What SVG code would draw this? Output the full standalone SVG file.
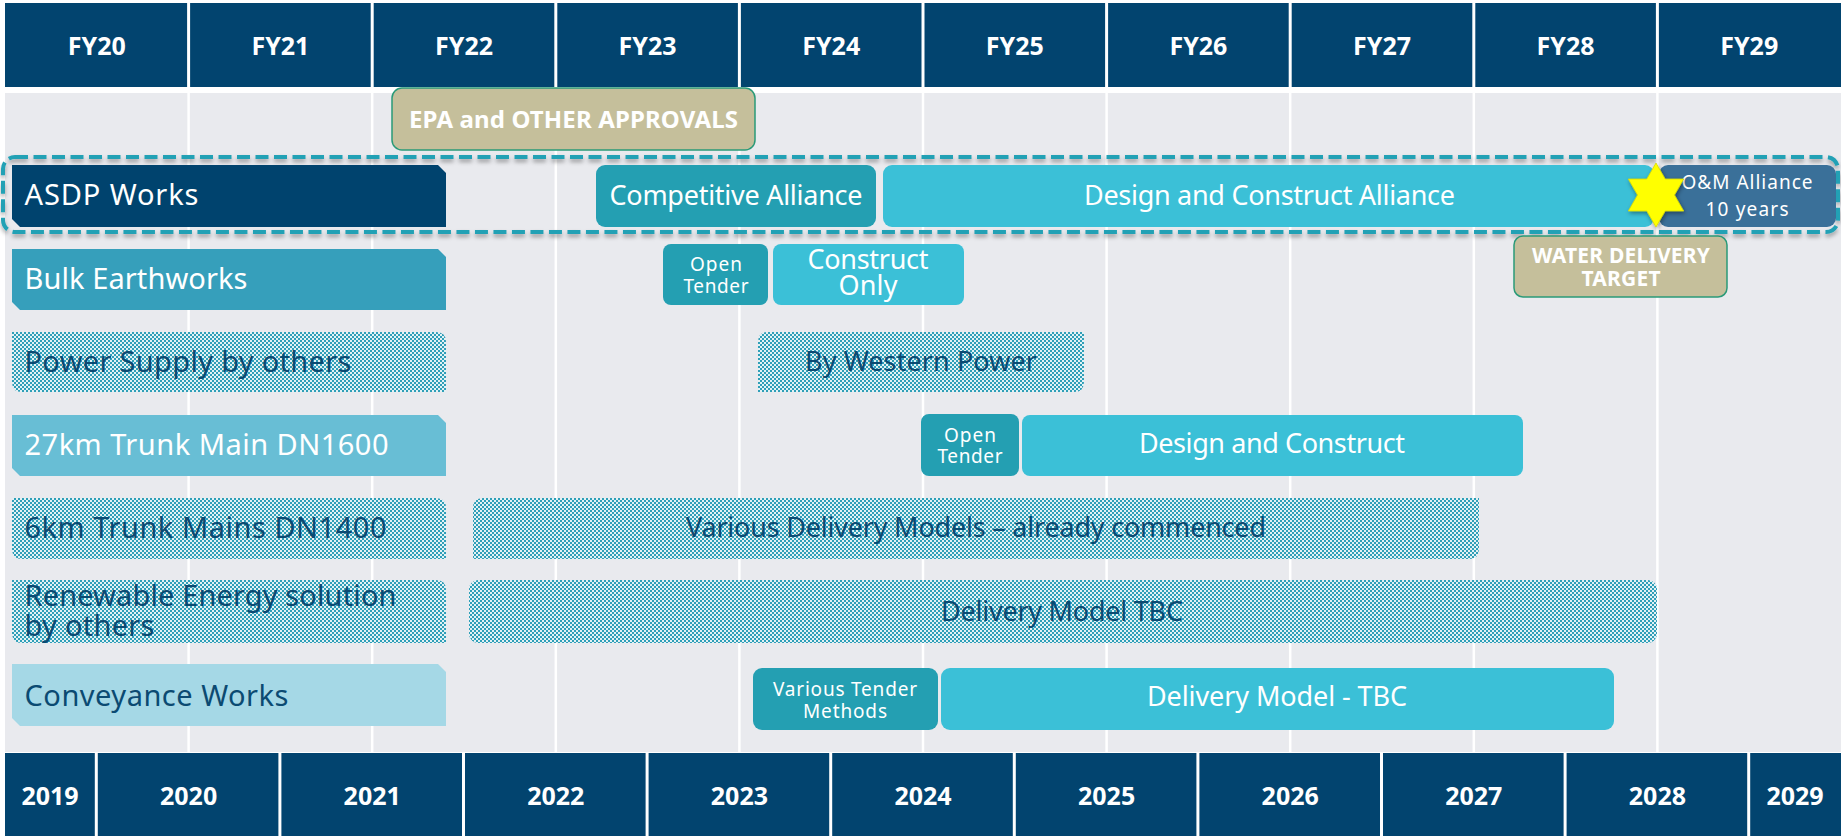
<svg xmlns="http://www.w3.org/2000/svg" width="1841" height="836" viewBox="0 0 1841 836">
  <style>
    .navy { fill: #02446f; }
    .grid { stroke: #ffffff; stroke-width: 2.5; }
    .hdiv { stroke: #ffffff; stroke-width: 3; }
    .hd { font-family: "Noto Sans", "Open Sans", sans-serif; font-weight: 700; font-size: 25px; fill: #ffffff; text-anchor: middle; }
    .lbl { font-family: "Noto Sans", "Open Sans", sans-serif; font-size: 29px; fill: #ffffff; }
    .bt { font-family: "Noto Sans", "Open Sans", sans-serif; font-size: 27px; fill: #ffffff; text-anchor: middle; }
    .sm { font-family: "Noto Sans", "Open Sans", sans-serif; font-size: 19px; fill: #ffffff; text-anchor: middle; }
    .ms { font-family: "Noto Sans", "Open Sans", sans-serif; font-weight: 700; fill: #ffffff; text-anchor: middle; }
    text.dk { fill: #0b4a72; }
    .teal { fill: #249fb2; }
    .cyan { fill: #3bc0d7; }
    .beige { fill: #c5bf9b; stroke: #2a9a78; stroke-width: 1.5; }
    .hatch { fill: url(#dots); }
  </style>
  <defs>
    <pattern id="dots" width="4" height="4" patternUnits="userSpaceOnUse">
      <rect width="4" height="4" fill="#e4f1f4"/>
      <rect width="2" height="2" fill="#2f9fb8"/>
      <rect x="2" y="2" width="2" height="2" fill="#2f9fb8"/>
    </pattern>
    <filter id="shadow" x="-5%" y="-30%" width="110%" height="160%">
      <feDropShadow dx="0" dy="3" stdDeviation="2" flood-color="#000000" flood-opacity="0.35"/>
    </filter>
    <filter id="starShadow" x="-30%" y="-30%" width="160%" height="160%">
      <feDropShadow dx="1" dy="2" stdDeviation="2" flood-color="#000000" flood-opacity="0.4"/>
    </filter>
  </defs>

  <!-- chart body with year grid -->
  <g id="grid">
    <rect x="5" y="93" width="1836" height="659" fill="#e9eaee"/>
    <g class="grid">
      <line x1="188.6" y1="93" x2="188.6" y2="752"/>
      <line x1="372.2" y1="93" x2="372.2" y2="752"/>
      <line x1="555.8" y1="93" x2="555.8" y2="752"/>
      <line x1="739.4" y1="93" x2="739.4" y2="752"/>
      <line x1="923" y1="93" x2="923" y2="752"/>
      <line x1="1106.6" y1="93" x2="1106.6" y2="752"/>
      <line x1="1290.2" y1="93" x2="1290.2" y2="752"/>
      <line x1="1473.8" y1="93" x2="1473.8" y2="752"/>
      <line x1="1657.4" y1="93" x2="1657.4" y2="752"/>
    </g>
  </g>

  <!-- financial year header -->
  <g id="fy-header">
    <rect class="navy" x="5" y="3" width="1836" height="84"/>
    <g class="hdiv">
      <line x1="188.6" y1="3" x2="188.6" y2="87"/>
      <line x1="372.2" y1="3" x2="372.2" y2="87"/>
      <line x1="555.8" y1="3" x2="555.8" y2="87"/>
      <line x1="739.4" y1="3" x2="739.4" y2="87"/>
      <line x1="923" y1="3" x2="923" y2="87"/>
      <line x1="1106.6" y1="3" x2="1106.6" y2="87"/>
      <line x1="1290.2" y1="3" x2="1290.2" y2="87"/>
      <line x1="1473.8" y1="3" x2="1473.8" y2="87"/>
      <line x1="1657.4" y1="3" x2="1657.4" y2="87"/>
    </g>
    <text class="hd" x="96.8" y="55">FY20</text>
    <text class="hd" x="280.4" y="55">FY21</text>
    <text class="hd" x="464" y="55">FY22</text>
    <text class="hd" x="647.6" y="55">FY23</text>
    <text class="hd" x="831.2" y="55">FY24</text>
    <text class="hd" x="1014.8" y="55">FY25</text>
    <text class="hd" x="1198.4" y="55">FY26</text>
    <text class="hd" x="1382" y="55">FY27</text>
    <text class="hd" x="1565.6" y="55">FY28</text>
    <text class="hd" x="1749.2" y="55">FY29</text>
  </g>

  <!-- calendar year footer -->
  <g id="year-footer">
    <rect class="navy" x="5" y="753" width="1836" height="83"/>
    <g class="hdiv">
      <line x1="96.3" y1="753" x2="96.3" y2="836"/>
      <line x1="279.9" y1="753" x2="279.9" y2="836"/>
      <line x1="463.5" y1="753" x2="463.5" y2="836"/>
      <line x1="647.1" y1="753" x2="647.1" y2="836"/>
      <line x1="830.7" y1="753" x2="830.7" y2="836"/>
      <line x1="1014.3" y1="753" x2="1014.3" y2="836"/>
      <line x1="1197.9" y1="753" x2="1197.9" y2="836"/>
      <line x1="1381.5" y1="753" x2="1381.5" y2="836"/>
      <line x1="1565.1" y1="753" x2="1565.1" y2="836"/>
      <line x1="1748.7" y1="753" x2="1748.7" y2="836"/>
    </g>
    <text class="hd" x="50" y="805">2019</text>
    <text class="hd" x="188.6" y="805">2020</text>
    <text class="hd" x="372.2" y="805">2021</text>
    <text class="hd" x="555.8" y="805">2022</text>
    <text class="hd" x="739.4" y="805">2023</text>
    <text class="hd" x="923" y="805">2024</text>
    <text class="hd" x="1106.6" y="805">2025</text>
    <text class="hd" x="1290.2" y="805">2026</text>
    <text class="hd" x="1473.8" y="805">2027</text>
    <text class="hd" x="1657.4" y="805">2028</text>
    <text class="hd" x="1795" y="805">2029</text>
  </g>

  <!-- approvals milestone -->
  <g id="epa-approvals">
    <rect class="beige" x="392" y="88" width="363" height="62" rx="10"/>
    <text class="ms" x="573.5" y="128" font-size="24" textLength="329">EPA and OTHER APPROVALS</text>
  </g>

  <!-- ASDP works scope outline -->
  <g id="asdp-scope">
    <rect x="3" y="157" width="1835" height="75" rx="12" fill="none" stroke="#23a1b5" stroke-width="4" stroke-dasharray="13 5.5" filter="url(#shadow)"/>
  </g>

  <!-- row: ASDP works -->
  <g id="row-asdp">
    <path d="M12 165 H438 L446 173 V227 H20 L12 219 Z" fill="#00436e"/>
    <text class="lbl" x="24.5" y="205" textLength="174">ASDP Works</text>
    <rect class="teal" x="596" y="165" width="280" height="62" rx="9"/>
    <text class="bt" x="736" y="205" font-size="28" textLength="253">Competitive Alliance</text>
    <rect class="cyan" x="883" y="165" width="771" height="62" rx="9"/>
    <text class="bt" x="1269.5" y="205" font-size="28" textLength="371">Design and Construct Alliance</text>
    <rect x="1659" y="165" width="177" height="62" rx="9" fill="#3a7099"/>
    <text class="sm" x="1747" y="189" font-size="21" textLength="131">O&amp;M Alliance</text>
    <text class="sm" x="1747" y="216" font-size="20" textLength="83">10 years</text>
  </g>

  <!-- water delivery star (hexagram) -->
  <g id="delivery-star">
    <path transform="translate(1656 195)" d="M0 -32 L9.24 -16 L27.7 -16 L18.5 0 L27.7 16 L9.24 16 L0 32 L-9.24 16 L-27.7 16 L-18.5 0 L-27.7 -16 L-9.24 -16 Z" fill="#ffff00" stroke="#d8d800" stroke-width="0.8" filter="url(#starShadow)"/>
  </g>

  <!-- row: bulk earthworks -->
  <g id="row-bulk-earthworks">
    <path d="M12 249 H438 L446 257 V310 H20 L12 302 Z" fill="#369fbb"/>
    <text class="lbl" x="24.5" y="289" textLength="223">Bulk Earthworks</text>
    <rect class="teal" x="663" y="244" width="105" height="61" rx="8"/>
    <text class="sm" x="716" y="271" textLength="52">Open</text>
    <text class="sm" x="716" y="293" textLength="65">Tender</text>
    <rect class="cyan" x="773" y="244" width="191" height="61" rx="8"/>
    <text class="bt" x="868" y="269" font-size="25" textLength="121">Construct</text>
    <text class="bt" x="868" y="295" font-size="25" textLength="59">Only</text>
  </g>

  <!-- water delivery target milestone -->
  <g id="water-delivery-target">
    <rect class="beige" x="1514" y="236" width="213" height="61" rx="9"/>
    <text class="ms" x="1621" y="263" font-size="21" textLength="178">WATER DELIVERY</text>
    <text class="ms" x="1621" y="286" font-size="21" textLength="79">TARGET</text>
  </g>

  <!-- row: power supply -->
  <g id="row-power-supply">
    <path d="M12 332 H436 Q446 332 446 342 V392 H22 Q12 392 12 382 Z" class="hatch"/>
    <text class="lbl dk" x="24.5" y="372" textLength="327">Power Supply by others</text>
    <path d="M768 332 H1084 V382 Q1084 392 1074 392 H758 V342 Q758 332 768 332 Z" class="hatch"/>
    <text class="bt dk" x="921" y="371" textLength="232">By Western Power</text>
  </g>

  <!-- row: 27km trunk main -->
  <g id="row-trunk-main-27km">
    <path d="M12 415 H438 L446 423 V476 H20 L12 468 Z" fill="#68bed5"/>
    <text class="lbl" x="24.5" y="455" textLength="364">27km Trunk Main DN1600</text>
    <rect class="teal" x="921" y="414" width="98" height="62" rx="8"/>
    <text class="sm" x="970" y="442" textLength="52">Open</text>
    <text class="sm" x="970" y="463" textLength="65">Tender</text>
    <rect class="cyan" x="1022" y="415" width="501" height="61" rx="8"/>
    <text class="bt" x="1272" y="453" textLength="266">Design and Construct</text>
  </g>

  <!-- row: 6km trunk mains -->
  <g id="row-trunk-mains-6km">
    <path d="M12 498 H436 Q446 498 446 508 V559 H22 Q12 559 12 549 Z" class="hatch"/>
    <text class="lbl dk" x="24.5" y="538" textLength="362">6km Trunk Mains DN1400</text>
    <path d="M483 498 H1479 V549 Q1479 559 1469 559 H473 V508 Q473 498 483 498 Z" class="hatch"/>
    <text class="bt dk" x="976" y="537" textLength="580">Various Delivery Models – already commenced</text>
  </g>

  <!-- row: renewable energy -->
  <g id="row-renewable-energy">
    <path d="M12 580 H436 Q446 580 446 590 V643 H22 Q12 643 12 633 Z" class="hatch"/>
    <text class="lbl dk" x="24.5" y="606" textLength="372">Renewable Energy solution</text>
    <text class="lbl dk" x="24.5" y="636" textLength="130">by others</text>
    <rect class="hatch" x="469" y="580" width="1188" height="63" rx="9"/>
    <text class="bt dk" x="1062" y="621" textLength="242">Delivery Model TBC</text>
  </g>

  <!-- row: conveyance works -->
  <g id="row-conveyance">
    <path d="M12 664 H438 L446 672 V726 H20 L12 718 Z" fill="#a5d8e6"/>
    <text class="lbl dk" x="24.5" y="706" textLength="264">Conveyance Works</text>
    <rect class="teal" x="753" y="668" width="185" height="62" rx="9"/>
    <text class="sm" x="845" y="696" font-size="20" textLength="144">Various Tender</text>
    <text class="sm" x="845" y="718" font-size="20" textLength="84">Methods</text>
    <rect class="cyan" x="941" y="668" width="673" height="62" rx="9"/>
    <text class="bt" x="1277" y="706" textLength="260">Delivery Model - TBC</text>
  </g>
</svg>
